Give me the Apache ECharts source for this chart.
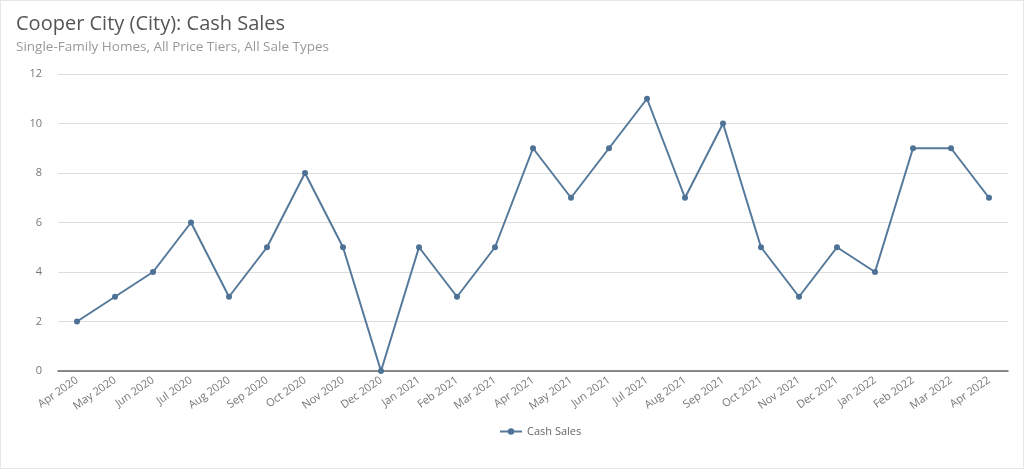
<!DOCTYPE html>
<html><head><meta charset="utf-8">
<script src="https://cdn.jsdelivr.net/npm/echarts@6/dist/echarts.min.js"></script>
<style>html,body{margin:0;padding:0;background:#fff;}#c{width:1022px;height:467px;border:1px solid #e6e6e6;}</style>
</head><body><div id="c"></div>
<script>
const categories = ["Apr 2020","May 2020","Jun 2020","Jul 2020","Aug 2020","Sep 2020","Oct 2020","Nov 2020","Dec 2020","Jan 2021","Feb 2021","Mar 2021","Apr 2021","May 2021","Jun 2021","Jul 2021","Aug 2021","Sep 2021","Oct 2021","Nov 2021","Dec 2021","Jan 2022","Feb 2022","Mar 2022","Apr 2022"];
const cashSales = [2,3,4,6,3,5,8,5,0,5,3,5,9,7,9,11,7,10,5,3,5,4,9,9,7];
const seriesName = "Cash Sales";
const titleText = "Cooper City (City): Cash Sales";
const subtitleText = "Single-Family Homes, All Price Tiers, All Sale Types";
const ff = "'Open Sans', 'Noto Sans', sans-serif";
const chart = echarts.init(document.getElementById('c'));
chart.setOption({
  animation:false,
  textStyle:{fontFamily:ff},
  title:{text:titleText, subtext:subtitleText, left:10, top:8, itemGap:6,
    textStyle:{fontSize:20,fontWeight:'normal',color:'#555',fontFamily:ff},
    subtextStyle:{fontSize:13.5,color:'#999',fontFamily:ff}},
  legend:{bottom:26, left:493, itemWidth:22, itemHeight:8, itemGap:5, textStyle:{fontSize:11,color:'#666',fontFamily:ff}},
  grid:{left:57, right:15, top:73, bottom:97},
  xAxis:{type:'category', data:categories, boundaryGap:true,
    axisLine:{lineStyle:{color:'#666',width:1.5}}, axisTick:{show:false},
    axisLabel:{rotate:35, fontSize:11, color:'#777', margin:8, interval:0}},
  yAxis:{type:'value', min:0, max:12, interval:2,
    axisLine:{show:false}, axisTick:{show:false},
    axisLabel:{fontSize:11,color:'#777',margin:16},
    splitLine:{lineStyle:{color:'#ddd'}}},
  series:[{name:seriesName, type:'line', data:cashSales, symbol:'circle', symbolSize:6,
    lineStyle:{color:'#55799b',width:2}, itemStyle:{color:'#4d7295'}}]
});
</script></body></html>
